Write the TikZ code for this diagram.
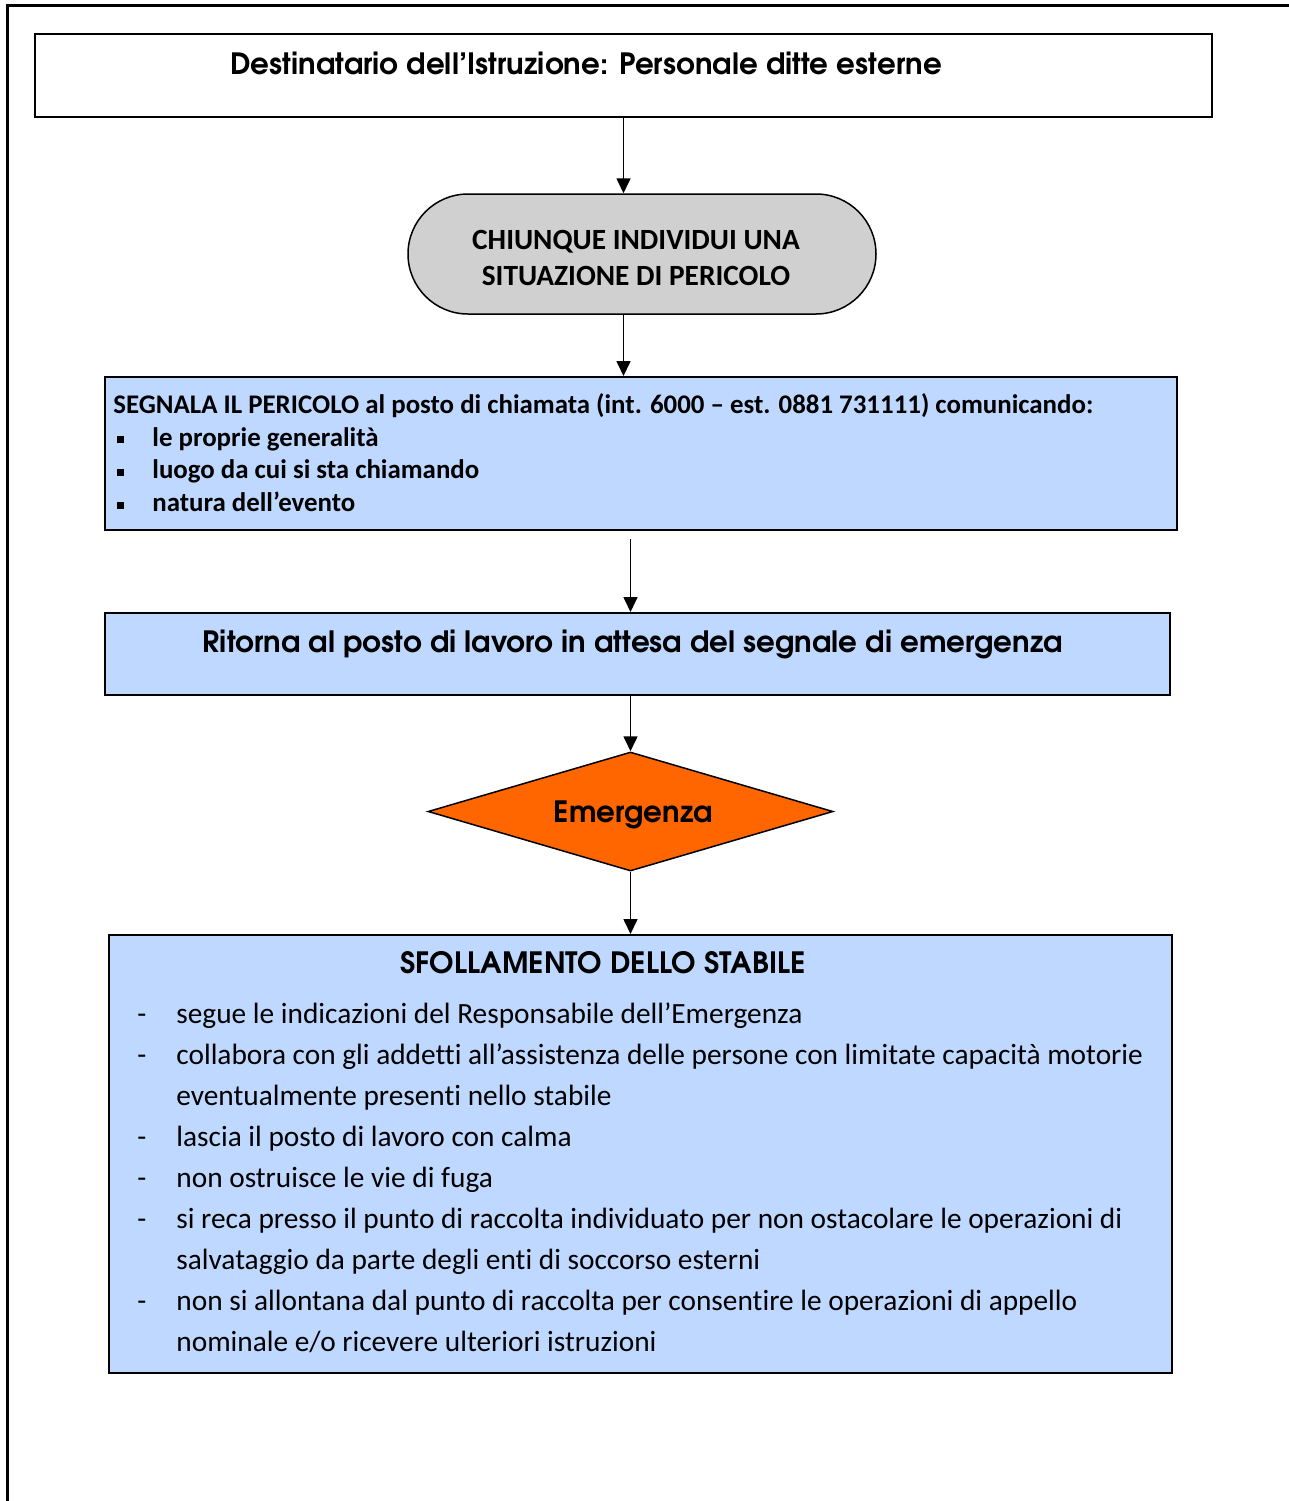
\documentclass[tikz,border=0pt]{standalone}
\usepackage{fontspec}
\setmainfont{Carlito}[Ligatures={NoCommon}]
\newfontfamily\gothic{TeX Gyre Adventor}[Ligatures={NoCommon}]
\usetikzlibrary{shapes.geometric,shapes.misc,arrows.meta,calc}
\definecolor{myblue}{RGB}{191,216,255}
\definecolor{termgray}{RGB}{208,208,208}
\definecolor{emorange}{RGB}{255,102,0}
\newcommand\sqbul{\makebox[19.5pt][l]{\hspace{1.7pt}\rule[1.4pt]{3.6pt}{3.6pt}}}
\newcommand\dsh{\makebox[19.5pt][l]{-}}
\newcommand\ind{\makebox[19.5pt][l]{}}
\begin{document}
\begin{tikzpicture}[x=0.5pt,y=-0.5pt,
  boxstyle/.style={draw, line width=1pt, inner sep=0pt},
  bluebox/.style={boxstyle, fill=myblue},
  arr/.style={-{Triangle[width=7pt,length=7.5pt]}, line width=0.8pt},
  gtext/.style={font=\gothic\bfseries\fontsize{14.67}{17}\selectfont, inner sep=0pt},
  ctext/.style={inner sep=0pt}]
\useasboundingbox (0,0) rectangle (1289,1501);
\draw[line width=1.5pt] (7,1501) -- (7,5) -- (1289,5);

% header
\node[boxstyle, minimum width=588.5pt, minimum height=41.5pt] (hdr) at (623.5,75.5) {};
\node[gtext, anchor=base] (hdrtxt) at (586,74.5) {Destinatario dell’Istruzione: Personale ditte esterne};

% terminator
\node[draw, line width=0.75pt, fill=termgray, rounded rectangle, inner sep=0pt,
      minimum width=234pt, minimum height=60pt] (term) at (642,254) {};
\node[ctext, align=center, font=\bfseries\fontsize{14.67}{17.8}\selectfont] (termtxt) at (636,258)
  {CHIUNQUE INDIVIDUI UNA\\SITUAZIONE DI PERICOLO};

% segnala box
\node[bluebox, minimum width=536pt, minimum height=76.5pt] (seg) at (641,453.5) {};
\node[ctext, anchor=base west, font=\bfseries\fontsize{13.44}{16.35}\selectfont] (segtxt) at (113,413.5)
  {\begin{tabular}[t]{@{}l@{}}
   SEGNALA IL PERICOLO al posto di chiamata (int. 6000 – est. 0881 731111) comunicando:\\
   \sqbul le proprie generalità\\
   \sqbul luogo da cui si sta chiamando\\
   \sqbul natura dell’evento
   \end{tabular}};

% ritorna box
\node[bluebox, minimum width=532.5pt, minimum height=41pt] (ret) at (637.5,654) {};
\node[gtext, anchor=base] (rettxt) at (633,652) {Ritorna al posto di lavoro in attesa del segnale di emergenza};

% diamond
\node[diamond, draw, line width=0.75pt, fill=emorange, inner sep=0pt, shape aspect=3.4,
      minimum width=202.5pt, minimum height=59.5pt, text height=10.8pt, text depth=0pt,
      font=\gothic\bfseries\fontsize{14.67}{17}\selectfont] (emer) at (630.5,811.5) {\hspace{3pt}Emergenza};

% sfollamento box
\node[bluebox, minimum width=531.5pt, minimum height=219pt] (sfo) at (640.5,1154) {};
\node[gtext, anchor=base] (sfotitle) at (603,973) {SFOLLAMENTO DELLO STABILE};
\node[ctext, anchor=base west, font=\fontsize{14.67}{20.56}\selectfont] (sfolist) at (137,1023)
  {\begin{tabular}[t]{@{}l@{}}
   \dsh segue le indicazioni del Responsabile dell’Emergenza\\
   \dsh collabora con gli addetti all’assistenza delle persone con limitate capacità motorie\\
   \ind eventualmente presenti nello stabile\\
   \dsh lascia il posto di lavoro con calma\\
   \dsh non ostruisce le vie di fuga\\
   \dsh si reca presso il punto di raccolta individuato per non ostacolare le operazioni di\\
   \ind salvataggio da parte degli enti di soccorso esterni\\
   \dsh non si allontana dal punto di raccolta per consentire le operazioni di appello\\
   \ind nominale e/o ricevere ulteriori istruzioni
   \end{tabular}};

% connectors
\draw[arr] (hdr.south) -- (hdr.south |- term.north);
\draw[arr] (term.south -| hdr.south) -- (seg.north -| hdr.south);
\draw[arr] ($(seg.south -| emer.north)+(0,8)$) -- (ret.north -| emer.north);
\draw[arr] (ret.south -| emer.north) -- (emer.north);
\draw[arr] (emer.south) -- (sfo.north -| emer.south);
\end{tikzpicture}
\end{document}
